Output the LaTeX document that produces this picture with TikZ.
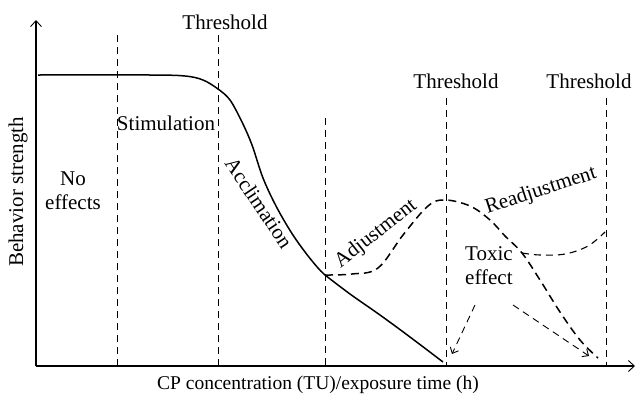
\documentclass[tikz,border=0pt]{standalone}
\usepackage{fontspec}
\setmainfont{Liberation Serif}
\usetikzlibrary{arrows.meta}
\begin{document}
\begin{tikzpicture}[x=1pt,y=-1pt,
  lbl/.style={font=\fontsize{21}{24}\selectfont, inner sep=0pt},
  axis/.style={line width=1.1pt, -{Straight Barb[length=6pt,width=11pt,line width=0.9pt]}},
  vdash/.style={line width=0.9pt, dash pattern=on 7pt off 5pt},
  cdash/.style={line width=1.5pt, dash pattern=on 8pt off 5pt},
  adash/.style={line width=0.9pt, dash pattern=on 7pt off 5pt, -{Straight Barb[length=5pt,width=9pt,line width=0.9pt]}},
  solidc/.style={line width=1.5pt}]
\useasboundingbox (0,0) rectangle (637,397);
% axes
\coordinate (O) at (36,366);
\coordinate (ytop) at (36,20);
\coordinate (xend) at (635,366);
\draw[axis] (O) -- (ytop);
\draw[axis] (O) -- (xend);
% vertical dashed lines
\coordinate (v1t) at (117,35);  \coordinate (v1b) at (117,366);
\coordinate (v2t) at (218,35);  \coordinate (v2b) at (218,366);
\coordinate (v3t) at (325,118); \coordinate (v3b) at (325,366);
\coordinate (v4t) at (446,98);  \coordinate (v4b) at (446,366);
\coordinate (v5t) at (606,98);  \coordinate (v5b) at (606,366);
\foreach \v in {1,...,5} \draw[vdash] (v\v t) -- (v\v b);
% solid curve
\coordinate (kink) at (325,275);
\draw[solidc] plot[smooth, tension=0.55] coordinates {(38,75) (150,75) (185,76) (203,80) (218,89) (230,100) (242,122) (252,145) (263,178) (276,206) (291,232) (305,252) (318,268) (kink)};
\draw[solidc] plot[smooth, tension=0.6] coordinates {(kink) (350,294) (380,315) (410,337) (443,362)};
% dashed curve
\coordinate (branch) at (522,253);
\draw[cdash] plot[smooth, tension=0.6] coordinates {(kink) (352,274) (378,268) (403,235) (428,206) (445,200) (470,206) (490,220) (505,236) (branch) (540,280) (560,312) (580,340) (598,358)};
\draw[vdash, line width=1.1pt] plot[smooth, tension=0.6] coordinates {(branch) (540,255) (565,254) (588,246) (605,232)};
% arrows
\coordinate (a1s) at (475,305); \coordinate (a1e) at (452,354);
\coordinate (a2s) at (513,305); \coordinate (a2e) at (589,356);
\draw[adash] (a1s) -- (a1e);
\draw[adash] (a2s) -- (a2e);
% labels
\node[lbl] (th1) at (225,22) {Threshold};
\node[lbl] (th2) at (456,81) {Threshold};
\node[lbl] (th3) at (589,81) {Threshold};
\node[lbl] (stim) at (166,123) {Stimulation};
\node[lbl, align=center] (noeff) at (73,191) {No\\effects};
\node[lbl, rotate=-56] (accl) at (259,203) {Acclimation};
\node[lbl, rotate=38] (adj) at (376,234) {Adjustment};
\node[lbl, rotate=18] (readj) at (541,191) {Readjustment};
\node[lbl, align=left, anchor=west] (tox) at (465,266) {Toxic\\effect};
\node[lbl, font=\fontsize{19.5}{22}\selectfont] (xl) at (318,385) {CP concentration (TU)/exposure time (h)};
\node[lbl, rotate=90] (yl) at (18,192) {Behavior strength};
\end{tikzpicture}
\end{document}
